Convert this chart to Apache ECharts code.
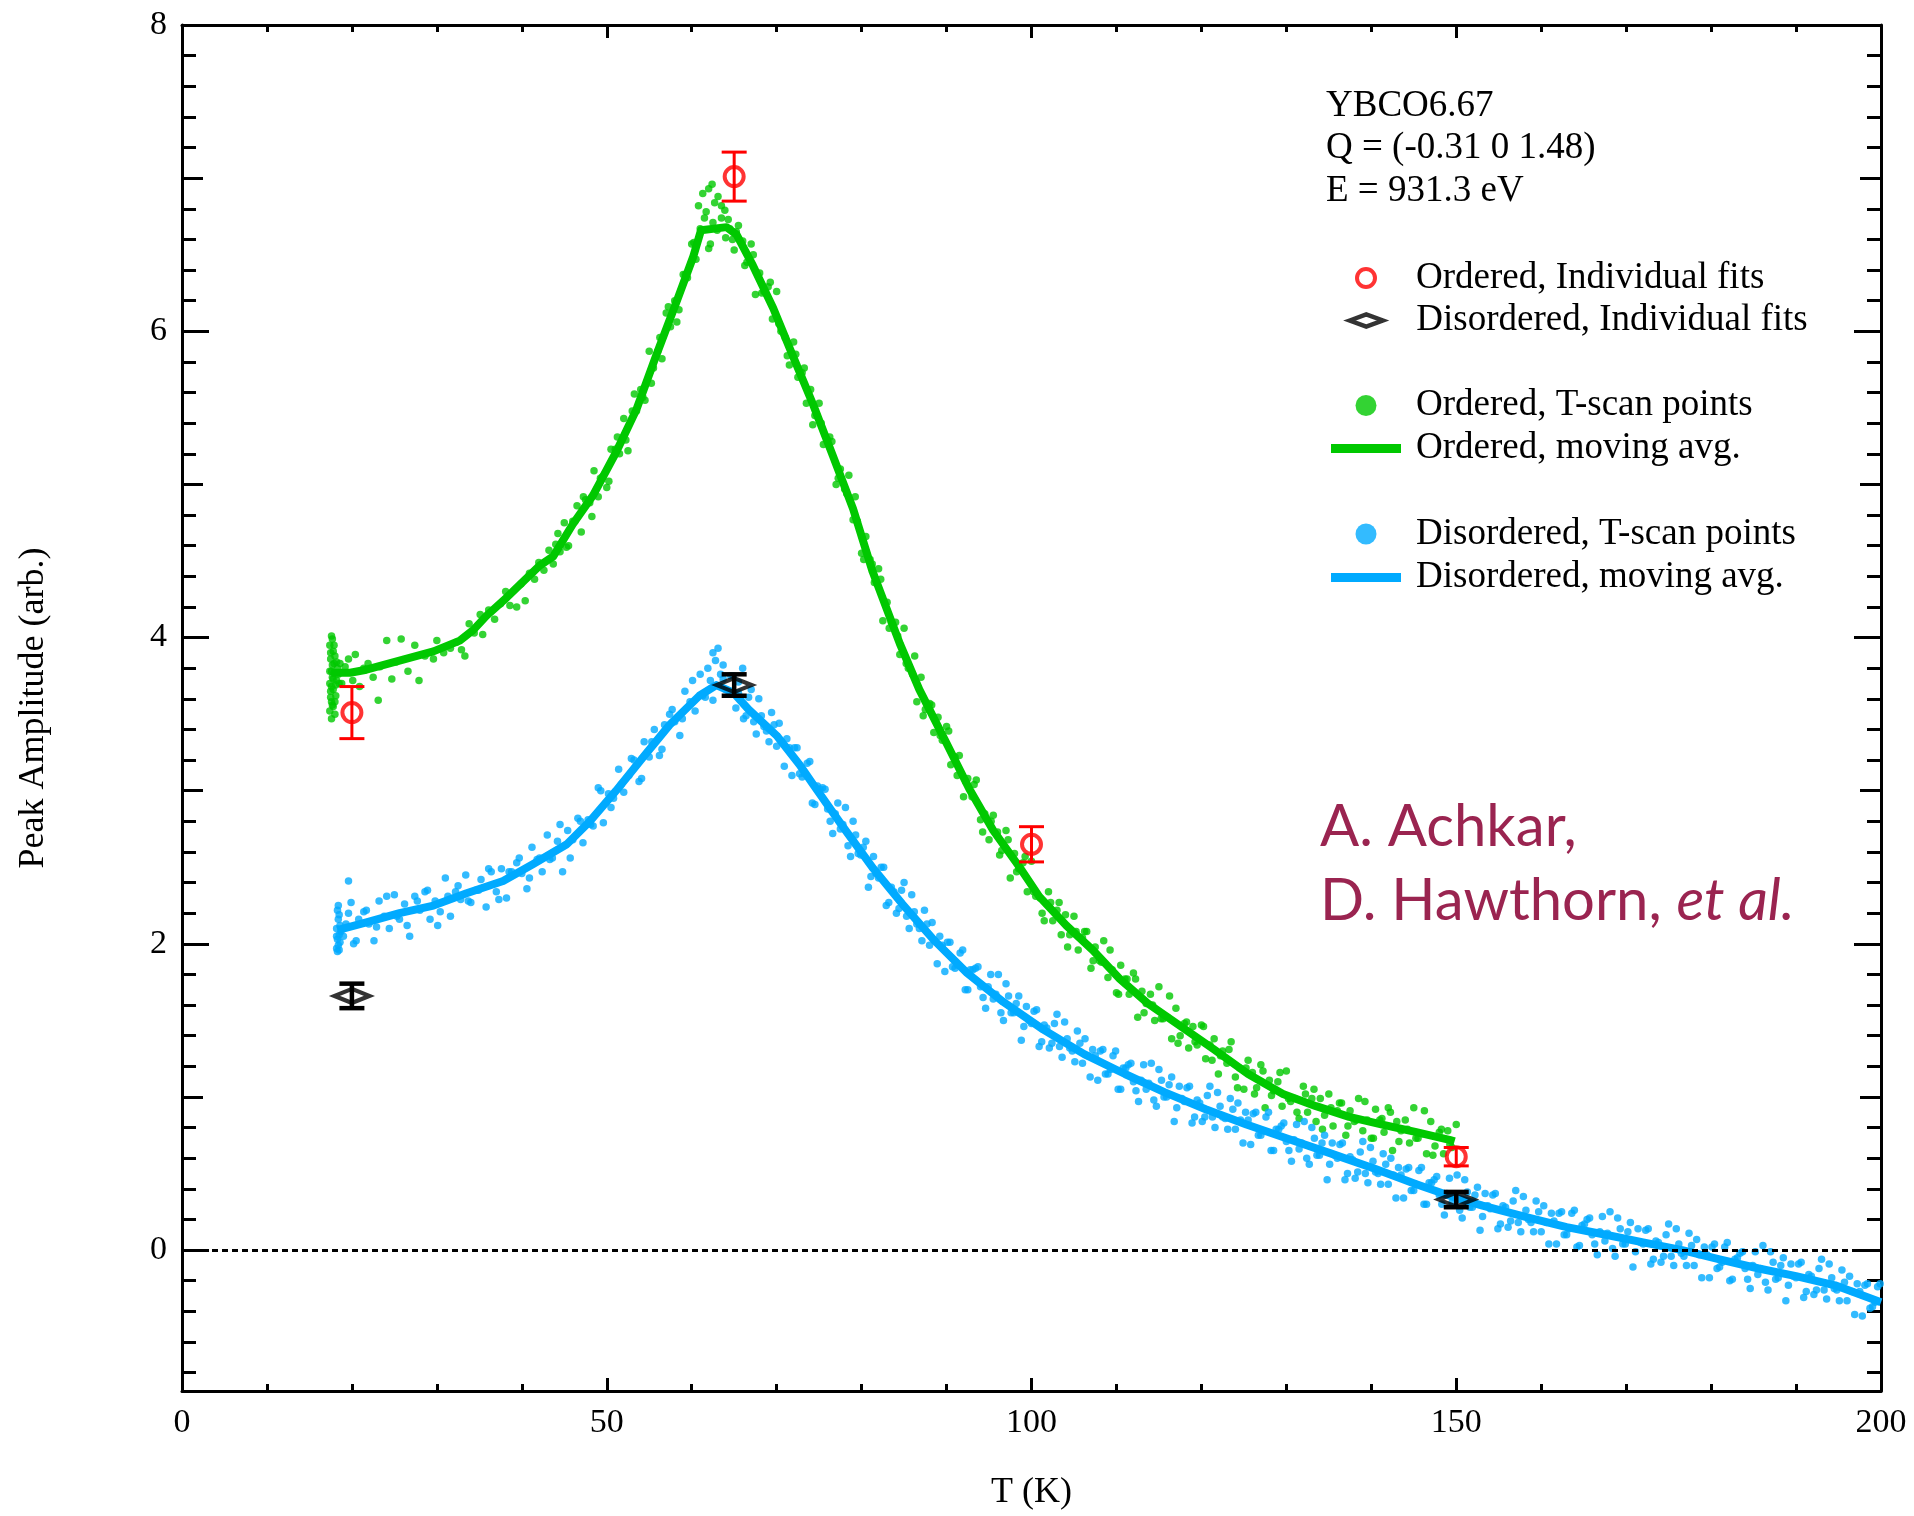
<!DOCTYPE html>
<html>
<head>
<meta charset="utf-8">
<script src="https://cdn.jsdelivr.net/npm/echarts@6/dist/echarts.min.js"></script>
<style>html,body{margin:0;padding:0;background:#fff}#c{width:1914px;height:1516px}</style>
</head>
<body>
<div id="c"></div>
<script>
// ---------------- DATA ----------------
const xTickValues = [0, 50, 100, 150, 200];
const yTickValues = [0, 2, 4, 6, 8];
const infoLines = ['YBCO6.67', 'Q = (-0.31 0 1.48)', 'E = 931.3 eV'];
const seriesNames = ['Ordered, Individual fits', 'Disordered, Individual fits', 'Ordered, T-scan points', 'Ordered, moving avg.', 'Disordered, T-scan points', 'Disordered, moving avg.'];

// [T, amplitude, error]
const orderedFits = [[20, 3.51, 0.17], [65, 7.01, 0.16], [100, 2.65, 0.115], [150, 0.61, 0.06]];
const disorderedFits = [[20, 1.66, 0.08], [65, 3.69, 0.07], [150, 0.33, 0.05]];

const greenAvg = [[17.6,3.77],[19.8,3.77],[21.7,3.79],[25.6,3.85],[29.6,3.91],[32.7,3.98],[34.3,4.05],[35.8,4.14],[38.2,4.26],[42.1,4.47],[43.7,4.53],[46.0,4.74],[48.4,4.93],[51.1,5.21],[53.5,5.49],[55.8,5.84],[58.2,6.19],[60.2,6.49],[61.1,6.66],[64.1,6.68],[65.3,6.63],[67.2,6.43],[69.6,6.15],[71.9,5.84],[74.3,5.52],[76.6,5.19],[79.0,4.84],[81.3,4.43],[84.5,3.96],[86.8,3.66],[90.0,3.31],[92.7,3.01],[95.5,2.74],[98.6,2.50],[100.9,2.31],[104.1,2.12],[107.2,1.96],[110.4,1.77],[113.7,1.61],[117.6,1.46],[121.5,1.31],[125.5,1.15],[129.6,1.02],[133.5,0.94],[137.4,0.87],[141.3,0.82],[145.3,0.77],[149.2,0.72],[149.8,0.71]];

const blueAvg = [[18.3,2.09],[21.7,2.14],[25.6,2.20],[29.6,2.25],[33.5,2.33],[37.8,2.41],[41.3,2.52],[45.3,2.65],[48.0,2.80],[51.1,3.00],[54.3,3.22],[57.4,3.43],[60.9,3.62],[62.9,3.69],[64.9,3.64],[66.7,3.53],[70.0,3.36],[72.7,3.17],[74.3,3.04],[77.6,2.78],[81.4,2.49],[84.8,2.26],[88.6,2.02],[92.4,1.81],[96.7,1.62],[101.4,1.44],[106.2,1.28],[111.0,1.15],[115.7,1.03],[120.5,0.92],[125.3,0.82],[130.0,0.73],[135.3,0.63],[140.5,0.53],[145.3,0.43],[150.0,0.34],[153.1,0.29],[158.6,0.21],[163.0,0.15],[167.6,0.10],[172.0,0.05],[176.6,0.00],[181.0,-0.06],[185.6,-0.12],[190.0,-0.17],[194.6,-0.23],[200.0,-0.34]];

const greenScatter = [
[17.4,3.52],[17.5,3.61],[17.4,3.70],[17.6,3.78],[17.5,3.86],[17.4,3.95],[17.6,4.01],[17.7,3.56],[17.8,3.66],[17.7,3.74],[17.9,3.83],[17.8,3.91],[17.6,3.47],[18.0,3.58],[18.1,3.69],[17.9,3.77],[18.0,3.88],[18.2,3.72],[18.3,3.80],[17.5,3.65],[17.7,3.82],[17.6,3.58],[17.8,3.73],[18.1,3.62],[18.4,3.76],[17.9,3.95],[17.5,3.90],[18.2,3.84],[17.4,3.78],[18.0,3.50],[17.7,3.99],[18.5,3.70],[18.6,3.83],[17.6,3.68],[17.8,3.55],
[18.8,3.70],[19.2,3.81],[19.6,3.86],[20.1,3.72],[20.4,3.89],[20.9,3.68],[21.4,3.80],[21.9,3.83],[22.5,3.74],[23.1,3.59],[23.3,3.81],[24.1,3.98],[24.7,3.73],[25.2,3.84],[25.8,3.99],[26.6,3.78],[27.4,3.95],[27.9,3.72],[28.6,3.88],[29.6,3.86],[30.0,3.98],[30.8,3.90],[31.6,3.93],[32.3,3.97],[32.9,3.92],[33.3,3.88],[33.8,4.09],[34.4,4.03],[35.1,4.15],[35.4,4.02],[36.1,4.18],[36.8,4.12],[37.5,4.22],[38.1,4.30],[38.6,4.21],[39.4,4.20],[39.9,4.35],[40.4,4.24],[40.9,4.42],[41.5,4.38],[42.0,4.49],[42.6,4.44],[43.2,4.57],[43.7,4.48],
[44.0,4.61],[44.5,4.56],[45.0,4.75],[45.5,4.60],[46.0,4.76],[46.5,4.86],[47.0,4.69],[47.5,4.90],[48.0,4.88],[48.5,5.09],[49.0,4.92],[49.5,5.05],[50.0,4.98],[50.5,5.23],[51.0,5.23],[51.5,5.20],[52.0,5.43],[52.5,5.22],[53.0,5.48],[53.5,5.48],[54.0,5.62],[54.5,5.55],[55.0,5.87],[55.5,5.76],[56.0,5.87],[56.5,5.82],[57.0,6.12],[57.5,6.03],[58.0,6.20],[58.5,6.14],[59.0,6.37],[59.5,6.35],[60.0,6.57],[60.5,6.47],[61.0,6.67],
[44.25,4.68],[45.25,4.59],[46.25,4.76],[47.25,4.92],[48.25,4.79],[49.25,5.04],[50.25,5.02],[51.25,5.31],[52.25,5.29],[53.25,5.59],[54.25,5.57],[55.25,5.66],[56.25,5.96],[57.25,6.16],[58.25,6.06],[59.25,6.37],[60.25,6.58],
[60.8,6.82],[61.3,6.90],[61.7,6.78],[62.0,6.93],[62.4,6.96],[62.7,6.84],[63.1,6.88],[63.5,6.74],[63.9,6.79],[64.3,6.73],[62.2,6.57],[64.8,6.60],
[61.5,6.74],[62.0,6.54],[62.5,6.71],[63.0,6.66],[63.5,6.82],[64.0,6.61],[64.5,6.67],[65.0,6.53],[65.5,6.69],[66.0,6.59],[66.5,6.45],[67.0,6.57],[67.5,6.24],[68.0,6.38],[68.5,6.26],[69.0,6.29],[69.5,6.08],[70.0,6.26],[70.5,6.00],[71.0,5.96],[71.5,5.78],[72.0,5.93],[72.5,5.70],[73.0,5.73],[73.5,5.53],[74.0,5.62],[74.5,5.45],[75.0,5.53],[75.5,5.26],[76.0,5.29],[76.5,5.28],[77.0,5.00],[77.5,5.10],[78.0,4.97],[78.5,5.06],[79.0,4.77],[79.5,4.76],[80.0,4.55],[80.5,4.66],[81.0,4.51],[81.5,4.36],[82.0,4.45],[82.5,4.11],[83.0,4.23],[83.5,4.10],[84.0,4.10],[84.5,3.89],[85.0,4.06],[85.5,3.80],[86.0,3.76],[86.5,3.58],[87.0,3.74],[87.5,3.53],[88.0,3.57],[88.5,3.38],[89.0,3.48],[89.5,3.33],[90.0,3.42],[90.5,3.17],[91.0,3.22],[91.5,3.23],[92.0,2.96],[92.5,3.08],[93.0,2.96],[93.5,3.07],[94.0,2.81],[94.5,2.85],[95.0,2.68],[95.5,2.84],[96.0,2.73],[96.5,2.61],[97.0,2.74],[97.5,2.43],[98.0,2.59],[98.5,2.49],[99.0,2.53],[99.5,2.34],[100.0,2.54],[100.5,2.31],[101.0,2.30],[101.5,2.15],[102.0,2.34],[102.5,2.15],[103.0,2.22],[103.5,2.06],[104.0,2.19],[104.5,2.06],[105.0,2.18],[105.5,1.96],[106.0,2.04],[106.5,2.08],[107.0,1.84],[107.5,1.98],[108.0,1.89],[108.5,2.02],[109.0,1.78],[109.5,1.83],[110.0,1.68],[110.5,1.86],[111.0,1.77],[111.5,1.67],[112.0,1.81],[112.5,1.52],[113.0,1.69],[113.5,1.61],[114.0,1.67],[114.5,1.50],[115.0,1.72],[115.5,1.51],[116.0,1.52],[116.5,1.38],[117.0,1.58],[117.5,1.40],[118.0,1.48],[118.5,1.32],[119.0,1.46],[119.5,1.34],[120.0,1.47],[120.5,1.25],[121.0,1.34],[121.5,1.38],[122.0,1.15],[122.5,1.30],[123.0,1.22],[123.5,1.36],[124.0,1.13],[124.5,1.19],[125.0,1.05],[125.5,1.24],[126.0,1.16],[126.5,1.06],[127.0,1.21],[127.5,0.93],[128.0,1.11],[128.5,1.04],[129.0,1.10],[129.5,0.94],[130.0,1.17],[130.5,0.97],[131.0,0.99],[131.5,0.86],[132.0,1.07],[132.5,0.90],[133.0,0.99],[133.5,0.84],[134.0,0.99],[134.5,0.88],[135.0,1.02],[135.5,0.81],[136.0,0.91],[136.5,0.96],[137.0,0.75],[137.5,0.91],[138.0,0.84],[138.5,0.99],[139.0,0.78],[139.5,0.85],[140.0,0.73],[140.5,0.92],[141.0,0.85],[141.5,0.77],[142.0,0.93],[142.5,0.65],[143.0,0.84],[143.5,0.78],[144.0,0.85],[144.5,0.70],[145.0,0.93],[145.5,0.73],[146.0,0.76],[146.5,0.63],[147.0,0.84],[147.5,0.68],[148.0,0.77],[148.5,0.63],[149.0,0.78],[149.5,0.67],[150.0,0.82],
[65.25,6.65],[66.25,6.43],[67.25,6.50],[68.25,6.25],[69.25,6.32],[70.25,6.05],[71.25,5.84],[72.25,5.85],[73.25,5.76],[74.25,5.39],[75.25,5.40],[76.25,5.31],[77.25,5.04],[78.25,4.94],[79.25,4.92],[80.25,4.51],[81.25,4.48],[82.25,4.38],[83.25,4.06],[84.25,4.01],[85.25,3.83],[86.25,3.88],[87.25,3.49],[88.25,3.56],[89.25,3.36],[90.25,3.39],[91.25,3.10],[92.25,3.06],[93.25,3.04],[94.25,2.73],[95.25,2.80],[96.25,2.58],[97.25,2.68],[98.25,2.47],[99.25,2.57],[100.25,2.34],[101.25,2.20],[102.25,2.27],[103.25,2.27],[104.25,1.98],[105.25,2.08],[106.25,2.08],[107.25,1.89],[108.25,1.88],[109.25,1.96],[110.25,1.67],[111.25,1.77],[112.25,1.77],[113.25,1.55],[114.25,1.60],[115.25,1.51],[116.25,1.66],[117.25,1.35],[118.25,1.49],[119.25,1.36],[120.25,1.46],[121.25,1.24],[122.25,1.27],[123.25,1.31],[124.25,1.06],[125.25,1.19],[126.25,1.02],[127.25,1.17],[128.25,1.01],[129.25,1.16],[130.25,0.99],[131.25,0.90],[132.25,1.02],[133.25,1.05],[134.25,0.79],[135.25,0.93],[136.25,0.96],[137.25,0.81],[138.25,0.85],[139.25,0.97],[140.25,0.73],[141.25,0.86],[142.25,0.90],[143.25,0.71],[144.25,0.79],[145.25,0.73],[146.25,0.91],[147.25,0.62],[148.25,0.79],[149.25,0.69]
];

const blueScatter = [
[18.2,1.97],[18.3,2.03],[18.2,2.10],[18.4,2.16],[18.3,2.22],[18.5,2.06],[18.4,1.99],[18.6,2.12],[18.2,2.05],[18.5,2.19],[18.3,1.95],[18.6,2.01],[18.4,2.25],[18.7,2.08],[18.5,1.96],[19.6,2.41],[19.9,2.27],
[19.0,2.05],[19.6,2.20],[20.2,2.00],[20.8,2.16],[21.4,2.21],[22.0,2.13],[22.6,2.02],[23.2,2.28],[23.8,2.18],[24.4,2.10],[25.0,2.32],[25.6,2.16],[26.2,2.26],[26.8,2.05],[27.4,2.31],[28.0,2.22],[28.6,2.34],[29.2,2.16],[29.8,2.28],[30.4,2.21],[31.0,2.43],[31.6,2.18],[32.2,2.34],[32.8,2.29],[33.4,2.45],[34.0,2.27],[34.6,2.35],[35.2,2.42],[35.8,2.24],[36.4,2.47],[37.0,2.34],[37.6,2.49],[38.2,2.30],[38.8,2.47],[39.4,2.53],[40.0,2.46],[40.6,2.36],[41.2,2.63],[41.8,2.55],[42.4,2.47],[43.0,2.71],[43.6,2.56],[44.2,2.67],[44.8,2.47],[45.4,2.74],[46.0,2.68],[46.6,2.82],[47.2,2.66],[47.8,2.81],[48.4,2.77],[49.0,3.02],[49.6,2.79],[50.2,2.98],[50.8,2.95],[51.4,3.14],[52.0,2.99],[52.6,3.10],[53.2,3.20],[53.8,3.06],[54.4,3.32],[55.0,3.22],[55.6,3.40],[56.2,3.23],[56.8,3.43],[57.4,3.50],[58.0,3.45],[58.6,3.36],[59.2,3.65],[59.8,3.58],[60.4,3.52],[61.0,3.76],[61.6,3.61],[62.2,3.72],[62.8,3.85],[63.4,3.76],[64.0,3.66],[64.6,3.75],[65.2,3.54],
[19.3,2.13],[20.5,2.02],[21.7,2.22],[22.9,2.11],[24.1,2.31],[25.3,2.18],[26.5,2.12],[27.7,2.28],[28.9,2.35],[30.1,2.12],[31.3,2.31],[32.5,2.38],[33.7,2.28],[34.9,2.35],[36.1,2.49],[37.3,2.29],[38.5,2.47],[39.7,2.56],[40.9,2.43],[42.1,2.56],[43.3,2.55],[44.5,2.78],[45.7,2.56],[46.9,2.80],[48.1,2.78],[49.3,3.00],[50.5,2.89],[51.7,3.04],[52.9,3.21],[54.1,3.08],[55.3,3.32],[56.5,3.27],[57.7,3.53],[58.9,3.47],[60.1,3.72],[61.3,3.62],[62.5,3.59],[63.7,3.73],[64.9,3.75],
[62.5,3.90],[63.1,3.93],[63.7,3.82],[61.9,3.80],[66.0,3.80],[65.5,3.71],
[65.8,3.61],[66.4,3.49],[67.0,3.66],[67.6,3.37],[68.2,3.49],[68.8,3.39],[69.4,3.51],[70.0,3.29],[70.6,3.32],[71.2,3.34],[71.8,3.10],[72.4,3.28],[73.0,3.09],[73.6,3.18],[74.2,2.92],[74.8,3.03],[75.4,3.02],[76.0,2.88],[76.6,2.72],[77.2,2.92],[77.8,2.78],[78.4,2.64],[79.0,2.80],[79.6,2.59],[80.2,2.63],[80.8,2.37],[81.4,2.57],[82.0,2.43],[82.6,2.50],[83.2,2.27],[83.8,2.34],[84.4,2.23],[85.0,2.40],[85.6,2.10],[86.2,2.21],[86.8,2.10],[87.4,2.22],[88.0,1.99],[88.6,2.02],[89.2,2.05],[89.8,1.82],[90.4,2.01],[91.0,1.84],[91.6,1.94],[92.2,1.70],[92.8,1.83],[93.4,1.84],[94.0,1.72],[94.6,1.58],[95.2,1.80],[95.8,1.67],[96.4,1.55],[97.0,1.74],[97.6,1.55],[98.2,1.61],[98.8,1.37],[99.4,1.59],[100.0,1.48],[100.6,1.57],[101.2,1.36],[101.8,1.45],[102.4,1.35],[103.0,1.54],[103.6,1.26],[104.2,1.38],[104.8,1.30],[105.4,1.43],[106.0,1.22],[106.6,1.27],[107.2,1.31],[107.8,1.11],[108.4,1.31],[109.0,1.15],[109.6,1.27],[110.2,1.05],[110.8,1.19],[111.4,1.21],[112.0,1.10],[112.6,0.97],[113.2,1.21],[113.8,1.09],[114.4,0.98],[115.0,1.18],[115.6,1.00],[116.2,1.08],[116.8,0.84],[117.4,1.07],[118.0,0.97],[118.6,1.07],[119.2,0.87],[119.8,0.96],[120.4,0.87],[121.0,1.07],[121.6,0.80],[122.2,0.94],[122.8,0.86],[123.4,0.99],[124.0,0.79],[124.6,0.85],[125.2,0.90],[125.8,0.69],[126.4,0.90],[127.0,0.75],[127.6,0.87],[128.2,0.65],[128.8,0.79],[129.4,0.81],[130.0,0.71],[130.6,0.58],[131.2,0.82],[131.8,0.70],[132.4,0.60],[133.0,0.80],[133.6,0.62],[134.2,0.70],[134.8,0.46],[135.4,0.70],[136.0,0.60],[136.6,0.70],[137.2,0.50],[137.8,0.59],[138.4,0.51],[139.0,0.71],[139.6,0.44],[140.2,0.58],[140.8,0.50],[141.4,0.63],[142.0,0.43],[142.6,0.49],[143.2,0.54],[143.8,0.34],[144.4,0.54],[145.0,0.39],[145.6,0.52],[146.2,0.30],[146.8,0.44],[147.4,0.46],[148.0,0.36],[148.6,0.23],[149.2,0.47],[149.8,0.36],[150.4,0.26],[151.0,0.46],[151.6,0.28],[152.2,0.36],[152.8,0.13],[153.4,0.37],[154.0,0.27],[154.6,0.37],[155.2,0.17],[155.8,0.28],[156.4,0.19],[157.0,0.39],[157.6,0.12],[158.2,0.26],[158.8,0.18],[159.4,0.32],[160.0,0.12],[160.6,0.18],[161.2,0.24],[161.8,0.04],[162.4,0.25],[163.0,0.10],[163.6,0.24],[164.2,0.02],[164.8,0.16],[165.4,0.20],[166.0,0.10],[166.6,-0.03],[167.2,0.22],[167.8,0.11],[168.4,0.01],[169.0,0.21],[169.6,0.04],[170.2,0.12],[170.8,-0.11],[171.4,0.14],[172.0,0.04],[172.6,0.14],[173.2,-0.06],[173.8,0.05],[174.4,-0.04],[175.0,0.17],[175.6,-0.10],[176.2,0.04],[176.8,-0.04],[177.4,0.11],[178.0,-0.10],[178.6,-0.03],[179.2,0.02],[179.8,-0.18],[180.4,0.04],[181.0,-0.11],[181.6,0.02],[182.2,-0.20],[182.8,-0.06],[183.4,-0.02],[184.0,-0.12],[184.6,-0.25],[185.2,-0.01],[185.8,-0.12],[186.4,-0.21],[187.0,-0.01],[187.6,-0.19],[188.2,-0.10],[188.8,-0.33],[189.4,-0.09],[190.0,-0.18],[190.6,-0.08],[191.2,-0.27],[191.8,-0.17],[192.4,-0.26],[193.0,-0.06],[193.6,-0.32],[194.2,-0.18],[194.8,-0.26],[195.4,-0.13],[196.0,-0.33],[196.6,-0.27],[197.2,-0.22],[197.8,-0.43],[198.4,-0.22],[199.0,-0.37],[199.6,-0.24],
[65.5,3.64],[66.1,3.47],[66.7,3.61],[67.3,3.45],[67.9,3.60],[68.5,3.42],[69.1,3.32],[69.7,3.43],[70.3,3.44],[70.9,3.16],[71.5,3.28],[72.1,3.28],[72.7,3.11],[73.3,3.11],[73.9,3.19],[74.5,2.91],[75.1,3.01],[75.7,3.01],[76.3,2.80],[76.9,2.85],[77.5,2.75],[78.1,2.89],[78.7,2.57],[79.3,2.71],[79.9,2.58],[80.5,2.67],[81.1,2.44],[81.7,2.46],[82.3,2.50],[82.9,2.25],[83.5,2.37],[84.1,2.20],[84.7,2.35],[85.3,2.18],[85.9,2.32],[86.5,2.13],[87.1,2.02],[87.7,2.13],[88.3,2.14],[88.9,1.87],[89.5,1.99],[90.1,2.01],[90.7,1.85],[91.3,1.86],[91.9,1.96],[92.5,1.70],[93.1,1.83],[93.7,1.85],[94.3,1.65],[94.9,1.72],[95.5,1.64],[96.1,1.80],[96.7,1.50],[97.3,1.66],[97.9,1.55],[98.5,1.66],[99.1,1.46],[99.7,1.50],[100.3,1.56],[100.9,1.33],[101.5,1.47],[102.1,1.32],[102.7,1.48],[103.3,1.33],[103.9,1.49],[104.5,1.32],[105.1,1.23],[105.7,1.35],[106.3,1.38],[106.9,1.13],[107.5,1.27],[108.1,1.30],[108.7,1.15],[109.3,1.18],[109.9,1.30],[110.5,1.05],[111.1,1.19],[111.7,1.22],[112.3,1.04],[112.9,1.11],[113.5,1.05],[114.1,1.22],[114.7,0.94],[115.3,1.11],[115.9,1.00],[116.5,1.13],[117.1,0.93],[117.7,0.99],[118.3,1.06],[118.9,0.83],[119.5,0.98],[120.1,0.84],[120.7,1.01],[121.3,0.87],[121.9,1.03],[122.5,0.87],[123.1,0.79],[123.7,0.92],[124.3,0.96],[124.9,0.70],[125.5,0.85],[126.1,0.89],[126.7,0.75],[127.3,0.78],[127.9,0.90],[128.5,0.65],[129.1,0.79],[129.7,0.83],[130.3,0.65],[130.9,0.72],[131.5,0.66],[132.1,0.84],[132.7,0.56],[133.3,0.73],[133.9,0.62],[134.5,0.75],[135.1,0.56],[135.7,0.62],[136.3,0.69],[136.9,0.46],[137.5,0.61],[138.1,0.47],[138.7,0.64],[139.3,0.50],[139.9,0.67],[140.5,0.51],[141.1,0.43],[141.7,0.56],[142.3,0.60],[142.9,0.34],[143.5,0.49],[144.1,0.53],[144.7,0.39],[145.3,0.43],[145.9,0.54],[146.5,0.30],[147.1,0.44],[147.7,0.48],[148.3,0.30],[148.9,0.37],[149.5,0.31],[150.1,0.49],[150.7,0.21],[151.3,0.38],[151.9,0.28],[152.5,0.41],[153.1,0.22],[153.7,0.29],[154.3,0.36],[154.9,0.14],[155.5,0.29],[156.1,0.15],[156.7,0.32],[157.3,0.18],[157.9,0.35],[158.5,0.20],[159.1,0.12],[159.7,0.25],[160.3,0.29],[160.9,0.04],[161.5,0.19],[162.1,0.24],[162.7,0.10],[163.3,0.14],[163.9,0.26],[164.5,0.03],[165.1,0.17],[165.7,0.21],[166.3,0.04],[166.9,0.12],[167.5,0.06],[168.1,0.25],[168.7,-0.04],[169.3,0.14],[169.9,0.04],[170.5,0.18],[171.1,-0.01],[171.7,0.05],[172.3,0.13],[172.9,-0.09],[173.5,0.06],[174.1,-0.08],[174.7,0.10],[175.3,-0.04],[175.9,0.14],[176.5,-0.02],[177.1,-0.10],[177.7,0.03],[178.3,0.07],[178.9,-0.18],[179.5,-0.03],[180.1,0.02],[180.7,-0.12],[181.3,-0.08],[181.9,0.05],[182.5,-0.19],[183.1,-0.05],[183.7,-0.01],[184.3,-0.19],[184.9,-0.10],[185.5,-0.16],[186.1,0.03],[186.7,-0.26],[187.3,-0.08],[187.9,-0.18],[188.5,-0.05],[189.1,-0.23],[189.7,-0.17],[190.3,-0.09],[190.9,-0.31],[191.5,-0.16],[192.1,-0.29],[192.7,-0.12],[193.3,-0.26],[193.9,-0.09],[194.5,-0.25],[195.1,-0.33],[195.7,-0.21],[196.3,-0.17],[196.9,-0.42],[197.5,-0.27],[198.1,-0.23],[198.7,-0.38],[199.3,-0.34],[199.9,-0.22]
];

// ---------------- CHART ----------------
const FONT = 'Liberation Serif';
const GREEN = '#00c800', BLUE = '#00aaff', RED = '#ff0000', BLACK = '#000000';
const X_MIN = xTickValues[0], X_MAX = xTickValues[xTickValues.length - 1];
const Y_MIN = -0.92, Y_MAX = yTickValues[yTickValues.length - 1];

function yAxisDef(pos, splitNumber, tickLen, withLine, withLabels) {
  return {
    type: 'value', position: pos, min: Y_MIN, max: Y_MAX, splitNumber: splitNumber,
    axisLine: { show: withLine, onZero: false, lineStyle: { color: BLACK, width: 3 } },
    axisTick: { show: true, inside: true, length: tickLen, lineStyle: { color: BLACK, width: 3 } },
    axisLabel: {
      show: withLabels, showMinLabel: false, margin: 15,
      fontFamily: FONT, fontSize: 34, color: BLACK,
      formatter: v => (yTickValues.indexOf(Math.round(v * 1000) / 1000) >= 0 ? String(v) : '')
    },
    splitLine: { show: false },
    name: withLabels ? 'Peak Amplitude (arb.)' : '',
    nameLocation: 'middle', nameGap: 130, nameRotate: 90,
    nameTextStyle: { fontFamily: FONT, fontSize: 36, color: BLACK }
  };
}
function xAxisDef(pos, withLabels) {
  return {
    type: 'value', position: pos, min: X_MIN, max: X_MAX, interval: 50,
    axisLine: { show: true, onZero: false, lineStyle: { color: BLACK, width: 3 } },
    axisTick: { show: true, inside: true, length: 13, lineStyle: { color: BLACK, width: 3 } },
    minorTick: { show: true, splitNumber: 5, length: 7, lineStyle: { color: BLACK, width: 3 } },
    axisLabel: { show: withLabels, margin: 15, fontFamily: FONT, fontSize: 34, color: BLACK, showMinLabel: true, showMaxLabel: true },
    splitLine: { show: false }, minorSplitLine: { show: false },
    name: withLabels ? 'T (K)' : '',
    nameLocation: 'middle', nameGap: 84,
    nameTextStyle: { fontFamily: FONT, fontSize: 36, color: BLACK }
  };
}

function errorBarSeries(name, fits, color, lw) {
  return {
    type: 'custom', name: name, z: 6, silent: true,
    data: fits.map(f => [f[0], f[1] - f[2], f[1] + f[2]]),
    encode: { x: 0, y: [1, 2] },
    renderItem: function (params, api) {
      const x = api.value(0);
      const top = api.coord([x, api.value(2)]);
      const bot = api.coord([x, api.value(1)]);
      const hw = 12.5;
      const st = { stroke: color, lineWidth: lw };
      return {
        type: 'group', children: [
          { type: 'line', shape: { x1: top[0], y1: top[1], x2: bot[0], y2: bot[1] }, style: st },
          { type: 'line', shape: { x1: top[0] - hw, y1: top[1], x2: top[0] + hw, y2: top[1] }, style: st },
          { type: 'line', shape: { x1: bot[0] - hw, y1: bot[1], x2: bot[0] + hw, y2: bot[1] }, style: st }
        ]
      };
    }
  };
}

// legend item: icon centred at x=1366, text starting at x=1416
const LEG_ICON_CX = 1366, LEG_TEXT_X = 1416;
function legendDef(name, centerY, icon, w, h, stroke, itemStyle) {
  const iconLeft = LEG_ICON_CX - w / 2;
  const pad = LEG_TEXT_X - (iconLeft + w + 5);
  return {
    show: true, left: iconLeft - stroke / 2, top: centerY - 18.5, padding: 0, orient: 'vertical',
    itemWidth: w, itemHeight: h, itemGap: 0, selectedMode: false, symbolKeepAspect: true,
    textStyle: { fontFamily: FONT, fontSize: 37, color: BLACK, lineHeight: 37, padding: [0, 0, 0, pad] },
    data: [{ name: name, icon: icon, itemStyle: itemStyle }]
  };
}

const chart = echarts.init(document.getElementById('c'), null, { renderer: 'canvas' });
chart.setOption({
  animation: false,
  backgroundColor: '#ffffff',
  grid: { left: 182, right: 33, top: 25, bottom: 121, containLabel: false },
  xAxis: [xAxisDef('bottom', true), xAxisDef('top', false)],
  yAxis: [
    yAxisDef('left', 5, 27, true, true),
    yAxisDef('left', 9, 21, false, false),
    yAxisDef('left', 45, 14, false, false),
    yAxisDef('right', 5, 27, true, false),
    yAxisDef('right', 9, 21, false, false),
    yAxisDef('right', 45, 14, false, false)
  ],
  title: [
    {
      text: infoLines.join('\n'), left: 1326, top: 85, padding: 0,
      textStyle: { fontFamily: FONT, fontSize: 37, fontWeight: 'normal', color: BLACK, lineHeight: 42.5 }
    },
    {
      text: 'A. Achkar,\nD. Hawthorn, {i|et al.}', left: 1320, top: 790, padding: 0,
      textStyle: {
        fontFamily: 'Lato', fontSize: 58, fontWeight: 'normal', color: '#9a2450', lineHeight: 74,
        rich: { i: { fontFamily: 'Lato', fontSize: 58, fontStyle: 'italic', color: '#9a2450', lineHeight: 74 } }
      }
    }
  ],
  legend: [
    legendDef(seriesNames[0], 278, 'circle', 18, 18, 4, { color: 'rgba(0,0,0,0)', borderColor: RED, borderWidth: 4 }),
    legendDef(seriesNames[1], 320.5, 'path://M0,6L16.5,0L33,6L16.5,12Z', 33, 12, 4, { color: 'rgba(0,0,0,0)', borderColor: BLACK, borderWidth: 4.5 }),
    legendDef(seriesNames[2], 405.5, 'circle', 21, 21, 0, { color: GREEN, borderWidth: 0 }),
    legendDef(seriesNames[3], 448.5, 'path://M0,0H70V9H0Z', 70, 9, 0, { color: GREEN, borderWidth: 0 }),
    legendDef(seriesNames[4], 534, 'circle', 21, 21, 0, { color: BLUE, borderWidth: 0 }),
    legendDef(seriesNames[5], 577.5, 'path://M0,0H70V9H0Z', 70, 9, 0, { color: BLUE, borderWidth: 0 })
  ],
  series: [
    {
      type: 'scatter', name: seriesNames[2], data: greenScatter, symbol: 'circle', symbolSize: 7.5,
      itemStyle: { color: GREEN }, z: 2, silent: true, large: false,
      markLine: {
        silent: true, symbol: ['none', 'none'], label: { show: false },
        lineStyle: { color: BLACK, width: 3, type: [6, 4] },
        data: [{ yAxis: 0 }]
      }
    },
    {
      type: 'scatter', name: seriesNames[4], data: blueScatter, symbol: 'circle', symbolSize: 7.5,
      itemStyle: { color: BLUE }, z: 2, silent: true, large: false
    },
    {
      type: 'line', name: seriesNames[3], data: greenAvg, symbol: 'none', showSymbol: false,
      lineStyle: { color: GREEN, width: 8, join: 'round' }, itemStyle: { color: GREEN }, z: 3, silent: true
    },
    {
      type: 'line', name: seriesNames[5], data: blueAvg, symbol: 'none', showSymbol: false,
      lineStyle: { color: BLUE, width: 8, join: 'round' }, itemStyle: { color: BLUE }, z: 3, silent: true
    },
    errorBarSeries('orderedErr', orderedFits, RED, 3),
    errorBarSeries('disorderedErr', disorderedFits, BLACK, 4.5),
    {
      type: 'scatter', name: seriesNames[0], data: orderedFits.map(f => [f[0], f[1]]),
      symbol: 'circle', symbolSize: 19,
      itemStyle: { color: 'rgba(0,0,0,0)', borderColor: RED, borderWidth: 4 }, z: 7, silent: true
    },
    {
      type: 'scatter', name: seriesNames[1], data: disorderedFits.map(f => [f[0], f[1]]),
      symbol: 'diamond', symbolSize: [35, 14],
      itemStyle: { color: 'rgba(0,0,0,0)', borderColor: BLACK, borderWidth: 5 }, z: 7, silent: true
    }
  ]
});
</script>
</body>
</html>
